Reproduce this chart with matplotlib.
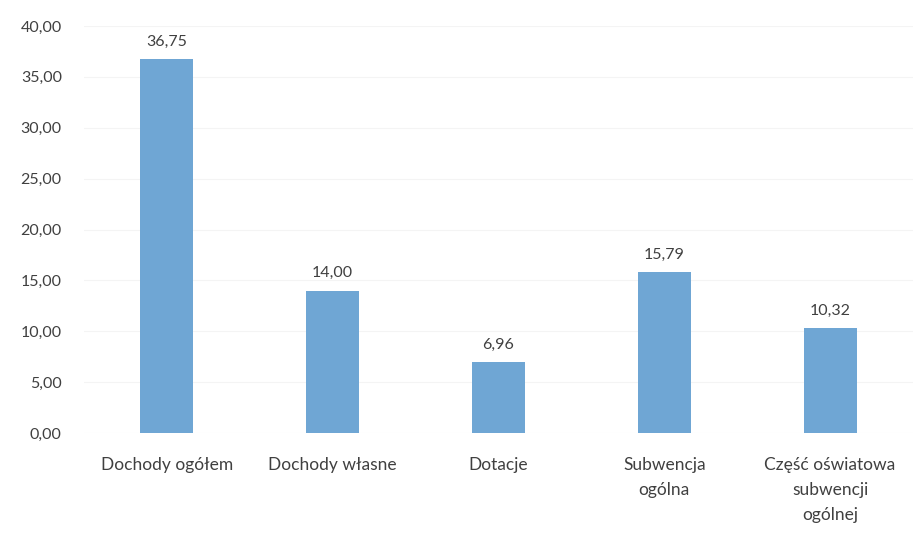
import matplotlib.pyplot as plt

categories = ["Dochody ogółem", "Dochody własne", "Dotacje",
              "Subwencja\nogólna", "Część oświatowa\nsubwencji\nogólnej"]
values = [36.75, 14.00, 6.96, 15.79, 10.32]
yticks = [0, 5, 10, 15, 20, 25, 30, 35, 40]

plt.rcParams['font.family'] = ['Lato', 'DejaVu Sans']

fig = plt.figure(figsize=(9.13, 5.38), dpi=100)
ax = fig.add_axes([84 / 913, 105 / 538, 829 / 913, 407 / 538])

x = range(len(categories))
ax.bar(x, values, width=0.32, color="#6fa6d4", zorder=2)

for xi, v in zip(x, values):
    ax.text(xi, v + 1.0, f"{v:.2f}".replace(".", ","), ha="center", va="bottom",
            fontsize=11.5, color="#404040")

ax.set_xlim(-0.5, 4.5)
ax.set_ylim(0, 40)
ax.set_yticks(yticks)
ax.set_yticklabels([f"{t:.2f}".replace(".", ",") for t in yticks],
                   fontsize=11.5, color="#404040")
ax.set_xticks(list(x))
ax.set_xticklabels(categories, fontsize=12.5, color="#404040", linespacing=1.7)
ax.tick_params(axis="both", length=0)
ax.tick_params(axis="x", pad=17)
ax.tick_params(axis="y", pad=16)
ax.grid(axis="y", color="#f4f4f4", linewidth=0.8, zorder=0)
for s in ax.spines.values():
    s.set_visible(False)

fig.savefig("out.png", dpi=100)
